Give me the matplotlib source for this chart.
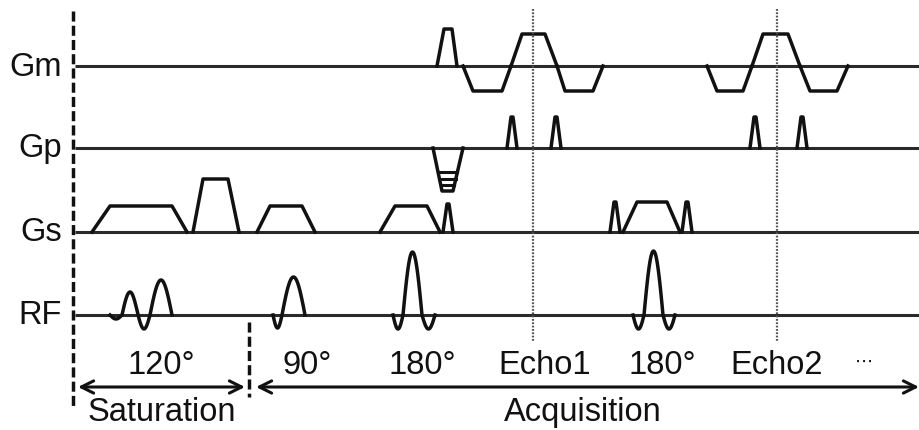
import numpy as np
import matplotlib.pyplot as plt

plt.rcParams['font.family'] = ['Liberation Sans', 'DejaVu Sans']

# channel names and their baseline rows (figure px, y down)
channels = ['Gm', 'Gp', 'Gs', 'RF']
baselines = [67, 149, 233, 316]

# gradient trapezoids: (start, rise, flat, fall, amplitude)
gm_traps = [(437, 7, 8, 5, 37),
            (463, 10, 29, 9, -25), (511, 11, 23, 12, 32), (557, 8, 28, 10, -25),
            (707, 10, 26, 9, -25), (752, 11, 25, 12, 32), (800, 10, 27, 11, -25)]
gp_traps = [(507, 4, 2, 4, 31), (551, 4, 2, 4, 31),
            (750, 4, 2, 4, 31), (797, 4, 2, 4, 31)]
gs_traps = [(92, 18, 62, 15, 26), (193, 10, 25, 11, 53), (257, 13, 32, 13, 26),
            (380, 15, 32, 13, 26), (443, 4, 2, 4, 28),
            (610, 4, 2, 4, 30), (623, 14, 30, 13, 30), (682, 4, 2, 4, 30)]

# phase-encode table on Gp: (start, rise, flat, fall) and step depths
pe_table = (433, 9, 11, 10)
pe_steps = [-24, -31, -37, -43]

# RF pulses: lobe edges and lobe amplitudes
rf_edges = [[110, 122, 138, 150, 172],
            [273, 282, 305],
            [393, 403, 422, 435],
            [633, 644, 663, 675]]
rf_amps = [[-4, 23, -14, 35],
           [-13, 38],
           [-14, 63, -14],
           [-14, 64, -14]]

# labels under the RF row
pulse_labels = ['120°', '90°', '180°', 'Echo1', '180°', 'Echo2']
pulse_label_x = [161, 307, 422, 545, 662, 777]

echo_x = [533, 777]

ink = '#111111'

fig = plt.figure(figsize=(9.2, 4.31), dpi=100)
ax = fig.add_axes([0, 0, 1, 1])
ax.set_xlim(0, 920)
ax.set_ylim(431, 0)
ax.axis('off')


def trap(start, rise, flat, fall, amp):
    t = [start, start + rise, start + rise + flat, start + rise + flat + fall]
    return np.array(t), np.array([0, amp, amp, 0])


# baselines and channel names
for name, y0 in zip(channels, baselines):
    ax.plot([75, 920], [y0, y0], color='#2a2a2a', lw=2.2, solid_capstyle='butt')
    ax.text(62, y0, name, ha='right', va='center', fontsize=23.5, color=ink)

# gradients
for traps, y0 in [(gm_traps, baselines[0]), (gp_traps, baselines[1]), (gs_traps, baselines[2])]:
    for tr in traps:
        t, a = trap(*tr)
        ax.plot(t, y0 - a, color=ink, lw=2.5, solid_joinstyle='round')

# phase-encode table
t, a = trap(*pe_table, pe_steps[-1])
ax.plot(t, baselines[1] - a, color=ink, lw=2.5)
depth = -pe_steps[-1]
for s in pe_steps[:-1]:
    f = -s / depth
    x0 = pe_table[0] + pe_table[1] * f
    x1 = pe_table[0] + pe_table[1] + pe_table[2] + pe_table[3] * (1 - f)
    ax.plot([x0, x1], [baselines[1] - s] * 2, color=ink, lw=2.2)

# RF pulses made of half-sine lobes
for edges, amps in zip(rf_edges, rf_amps):
    tt, aa = [], []
    for e0, e1, amp in zip(edges[:-1], edges[1:], amps):
        t = np.linspace(e0, e1, 40)
        tt.append(t)
        aa.append(amp * np.sin(np.pi * (t - e0) / (e1 - e0)))
    ax.plot(np.concatenate(tt), baselines[3] - np.concatenate(aa), color=ink, lw=2.5)

# timing lines
ax.plot([73, 73], [12, 410], color=ink, lw=2.5, linestyle=(0, (2.9, 1.2)))
ax.plot([249, 249], [323, 398], color=ink, lw=2.5, linestyle=(0, (2.9, 1.2)))
for ex in echo_x:
    ax.plot([ex, ex], [10, 342], color='#555555', lw=1.6, linestyle=(0, (0.8, 0.7)))

# pulse labels
for lab, x in zip(pulse_labels, pulse_label_x):
    ax.text(x, 374, lab, ha='center', va='baseline', fontsize=23.5, color=ink)
ax.text(864, 362, '⋯', ha='center', va='center', fontsize=13, color=ink,
        family='DejaVu Sans')

# period arrows
arrow = dict(arrowstyle='<->', color=ink, lw=2.2, mutation_scale=22, shrinkA=0, shrinkB=0)
ax.annotate('', xy=(78, 388), xytext=(245, 388), arrowprops=arrow)
ax.annotate('', xy=(256, 388), xytext=(919, 388), arrowprops=arrow)
ax.text(162, 421, 'Saturation', ha='center', va='baseline', fontsize=23.5, color=ink)
ax.text(583, 421, 'Acquisition', ha='center', va='baseline', fontsize=23.5, color=ink)

fig.savefig('out.png', dpi=100)
